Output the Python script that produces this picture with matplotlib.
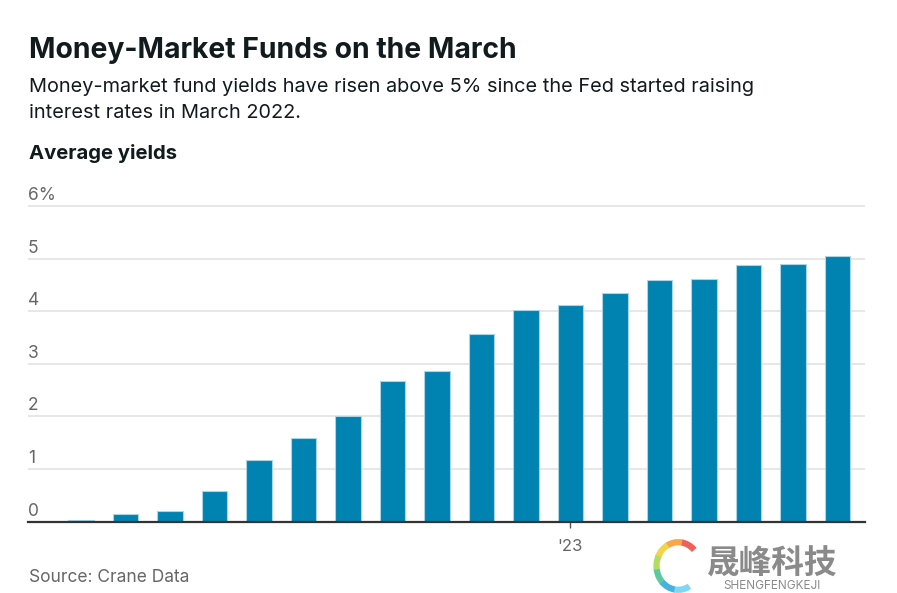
import matplotlib.pyplot as plt
import matplotlib.transforms as mtransforms
from matplotlib.patches import Arc

# ── Data ─────────────────────────────────────────────────────────────
months = ["2022-02", "2022-03", "2022-04", "2022-05", "2022-06", "2022-07",
          "2022-08", "2022-09", "2022-10", "2022-11", "2022-12", "2023-01",
          "2023-02", "2023-03", "2023-04", "2023-05", "2023-06", "2023-07"]
yields = [0.03, 0.15, 0.20, 0.58, 1.17, 1.59, 2.00, 2.67, 2.86, 3.56,
          4.02, 4.12, 4.35, 4.59, 4.61, 4.87, 4.89, 5.05]
y_ticks = [0, 1, 2, 3, 4, 5, 6]
y_labels = ["0", "1", "2", "3", "4", "5", "6%"]
x_tick_months = ["2023-01"]
x_tick_labels = ["'23"]

BAR = "#0083b0"
EDGE = "#a9d5e6"
GRAY = "#666666"
DARK = "#111a1c"
FONT = "Inter"

plt.rcParams["font.family"] = [FONT, "DejaVu Sans"]

fig = plt.figure(figsize=(8.97, 5.93), dpi=100)
W, H = 897, 593

# axes: x from 28px to 865px, y=0 at 521.7px, 52.62 px per unit
px_unit = 52.62
ymax = 6.05
ax = fig.add_axes([28 / W, 1 - 521.7 / H, (865 - 28) / W, ymax * px_unit / H])

x = list(range(len(months)))
ax.bar(x, yields, width=0.58, color=BAR, edgecolor=EDGE, linewidth=0.8, zorder=3)

ax.set_xlim(-1.19, 17.62)
ax.set_ylim(0, ymax)

# gridlines
for t in y_ticks[1:]:
    ax.axhline(t, color="#e5e5e5", lw=1.3, zorder=1)

# y labels sit above their gridlines, left-aligned
offset = mtransforms.ScaledTranslation(0, 6 / 100, fig.dpi_scale_trans)
for t, lab in zip(y_ticks, y_labels):
    ax.text(0, t, lab, transform=ax.get_yaxis_transform() + offset,
            ha="left", va="baseline", fontsize=12.5, color=GRAY)
ax.set_yticks([])

ax.set_xticks([months.index(m) for m in x_tick_months], x_tick_labels)
ax.tick_params(axis="x", length=4, width=1, color="#555555", pad=8.5,
               labelsize=12, labelcolor=GRAY)

for s in ["left", "right", "top"]:
    ax.spines[s].set_visible(False)
ax.spines["bottom"].set_color("#333333")
ax.spines["bottom"].set_linewidth(1.6)
ax.spines["bottom"].set_zorder(4)

# ── Text ─────────────────────────────────────────────────────────────
fig.text(29 / W, 1 - 57.5 / H, "Money-Market Funds on the March",
         fontsize=20.4, fontweight="bold", color=DARK, va="baseline")
fig.text(29 / W, 1 - 91.7 / H,
         "Money-market fund yields have risen above 5% since the Fed started raising",
         fontsize=14.35, color=DARK, va="baseline")
fig.text(29 / W, 1 - 118.3 / H, "interest rates in March 2022.",
         fontsize=14.35, color=DARK, va="baseline")
fig.text(29 / W, 1 - 159.3 / H, "Average yields",
         fontsize=14.6, fontweight="bold", color=DARK, va="baseline")
fig.text(29 / W, 1 - 581.7 / H, "Source: Crane Data",
         fontsize=12.5, color=GRAY, va="baseline")

# watermark
fig.text(707 / W, 1 - 574 / H, "晟峰科技", fontsize=23.5, color="#8a8a8a",
         fontweight="bold", va="baseline",
         family=["Noto Sans CJK SC", "DejaVu Sans"])
fig.text(772 / W, 1 - 589 / H, "SHENGFENGKEJI", fontsize=8.5, color="#8a8a8a",
         va="baseline", ha="center")

logo = fig.add_axes([646 / W, 1 - 594 / H, 56 / W, 56 / H])
logo.set_xlim(-1, 1)
logo.set_ylim(-1, 1)
logo.axis("off")
arc_colors = ["#f0605a", "#f7a64a", "#f2d54a", "#b5dc62", "#5cc9a2", "#45b2e0", "#7fd6f5"]
start = 45
for i, c in enumerate(arc_colors):
    logo.add_patch(Arc((0.15, 0), 1.55, 1.7, theta1=start + i * 36, theta2=start + i * 36 + 38,
                       color=c, lw=4.5))

fig.savefig("out.png", dpi=100)
